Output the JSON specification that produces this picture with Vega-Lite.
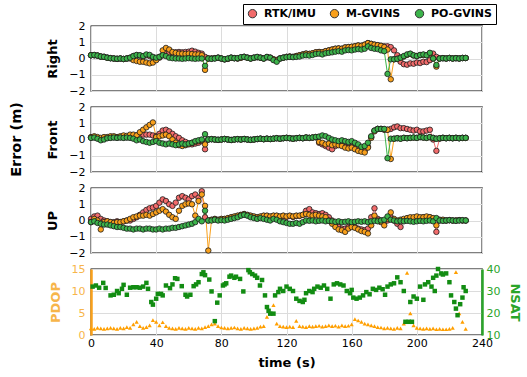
{
"$schema": "https://vega.github.io/schema/vega-lite/v6.json",
"background": "white",
"padding": {"left": 8, "top": 2, "right": 2, "bottom": 4},
"spacing": 16,
"bounds": "flush",
"config": {
 "font": "DejaVu Sans",
 "view": {"stroke": "black", "strokeWidth": 1.3},
 "axis": {"labelFontSize": 11, "labelColor": "black", "titleFontSize": 13, "titleFontWeight": "bold", "titleColor": "black", "gridColor": "#dcdcdc", "gridWidth": 1, "domain": false, "ticks": false, "labelPadding": 6, "titlePadding": 9, "labelOverlap": false}
},
"resolve": {"scale": {"y": "independent", "color": "independent", "stroke": "independent"}, "legend": {"color": "independent", "stroke": "independent"}},
"datasets": {
"err": [
{"t":0,"s":"RTK/IMU","r":0.2,"f":0.12,"u":0.1},
{"t":2,"s":"RTK/IMU","r":0.2,"f":0.14,"u":0.25},
{"t":4,"s":"RTK/IMU","r":0.18,"f":0.08,"u":0.3},
{"t":6,"s":"RTK/IMU","r":0.12,"f":0.0,"u":0.1},
{"t":8,"s":"RTK/IMU","r":0.1,"f":0.05,"u":0},
{"t":10,"s":"RTK/IMU","r":0.05,"f":0.1,"u":-0.05},
{"t":12,"s":"RTK/IMU","r":0.02,"f":0.12,"u":-0.1},
{"t":14,"s":"RTK/IMU","r":0,"f":0.14,"u":-0.1},
{"t":16,"s":"RTK/IMU","r":-0.02,"f":0.12,"u":-0.05},
{"t":18,"s":"RTK/IMU","r":0,"f":0.14,"u":-0.1},
{"t":20,"s":"RTK/IMU","r":-0.03,"f":0.12,"u":-0.05},
{"t":22,"s":"RTK/IMU","r":0,"f":0.14,"u":0},
{"t":24,"s":"RTK/IMU","r":0.05,"f":0.15,"u":0},
{"t":26,"s":"RTK/IMU","r":0.15,"f":0.2,"u":0.1},
{"t":28,"s":"RTK/IMU","r":0.2,"f":0.25,"u":0.2},
{"t":30,"s":"RTK/IMU","r":0.18,"f":0.25,"u":0.35},
{"t":32,"s":"RTK/IMU","r":0.12,"f":0.3,"u":0.5},
{"t":34,"s":"RTK/IMU","r":0.2,"f":0.3,"u":0.65},
{"t":36,"s":"RTK/IMU","r":0.15,"f":0.3,"u":0.75},
{"t":38,"s":"RTK/IMU","r":0.05,"f":0.25,"u":0.8},
{"t":40,"s":"RTK/IMU","r":0,"f":0.2,"u":0.9},
{"t":42,"s":"RTK/IMU","r":0.05,"f":0.35,"u":1.1},
{"t":44,"s":"RTK/IMU","r":0.2,"f":0.55,"u":1.3},
{"t":46,"s":"RTK/IMU","r":0.3,"f":0.6,"u":1.2},
{"t":48,"s":"RTK/IMU","r":0.35,"f":0.5,"u":1.0},
{"t":50,"s":"RTK/IMU","r":0.35,"f":0.35,"u":0.9},
{"t":52,"s":"RTK/IMU","r":0.38,"f":0.2,"u":1.1},
{"t":54,"s":"RTK/IMU","r":0.4,"f":0.1,"u":1.4},
{"t":56,"s":"RTK/IMU","r":0.38,"f":-0.05,"u":1.5},
{"t":58,"s":"RTK/IMU","r":0.4,"f":-0.15,"u":1.4},
{"t":60,"s":"RTK/IMU","r":0.42,"f":-0.25,"u":1.3},
{"t":62,"s":"RTK/IMU","r":0.48,"f":-0.3,"u":1.5},
{"t":64,"s":"RTK/IMU","r":0.42,"f":-0.25,"u":1.6},
{"t":66,"s":"RTK/IMU","r":0.35,"f":-0.2,"u":1.4},
{"t":68,"s":"RTK/IMU","r":0.3,"f":-0.1,"u":1.8},
{"t":70,"s":"RTK/IMU","r":0.1,"f":-0.6,"u":0.2},
{"t":72,"s":"RTK/IMU","r":0,"f":0,"u":0},
{"t":74,"s":"RTK/IMU","r":0,"f":0.02,"u":0.03},
{"t":76,"s":"RTK/IMU","r":0.02,"f":0,"u":0.08},
{"t":78,"s":"RTK/IMU","r":0.05,"f":-0.02,"u":0.03},
{"t":80,"s":"RTK/IMU","r":0,"f":0,"u":0.08},
{"t":82,"s":"RTK/IMU","r":-0.05,"f":0.03,"u":0.08},
{"t":84,"s":"RTK/IMU","r":-0.02,"f":0,"u":0.12},
{"t":86,"s":"RTK/IMU","r":0.05,"f":-0.03,"u":0.18},
{"t":88,"s":"RTK/IMU","r":0.02,"f":0,"u":0.22},
{"t":90,"s":"RTK/IMU","r":0,"f":0.02,"u":0.28},
{"t":92,"s":"RTK/IMU","r":0.05,"f":0,"u":0.32},
{"t":94,"s":"RTK/IMU","r":0.1,"f":0.03,"u":0.38},
{"t":96,"s":"RTK/IMU","r":0.05,"f":0,"u":0.32},
{"t":98,"s":"RTK/IMU","r":0,"f":-0.02,"u":0.28},
{"t":100,"s":"RTK/IMU","r":0.05,"f":0,"u":0.22},
{"t":102,"s":"RTK/IMU","r":0.08,"f":0.03,"u":0.18},
{"t":104,"s":"RTK/IMU","r":0.05,"f":0.05,"u":0.22},
{"t":106,"s":"RTK/IMU","r":0,"f":0.02,"u":0.28},
{"t":108,"s":"RTK/IMU","r":0.08,"f":0.05,"u":0.28},
{"t":110,"s":"RTK/IMU","r":0.05,"f":0.03,"u":0.22},
{"t":112,"s":"RTK/IMU","r":-0.05,"f":0.05,"u":0.28},
{"t":114,"s":"RTK/IMU","r":-0.1,"f":0.08,"u":0.28},
{"t":116,"s":"RTK/IMU","r":0,"f":0.05,"u":0.22},
{"t":118,"s":"RTK/IMU","r":0.05,"f":0.08,"u":0.28},
{"t":120,"s":"RTK/IMU","r":0.1,"f":0.1,"u":0.22},
{"t":122,"s":"RTK/IMU","r":0.12,"f":0.08,"u":0.28},
{"t":124,"s":"RTK/IMU","r":0.1,"f":0.05,"u":0.22},
{"t":126,"s":"RTK/IMU","r":0.15,"f":0.08,"u":0.28},
{"t":128,"s":"RTK/IMU","r":0.2,"f":0.1,"u":0.28},
{"t":130,"s":"RTK/IMU","r":0.25,"f":0.08,"u":0.35},
{"t":132,"s":"RTK/IMU","r":0.3,"f":0.12,"u":0.6},
{"t":134,"s":"RTK/IMU","r":0.28,"f":0.1,"u":0.7},
{"t":136,"s":"RTK/IMU","r":0.32,"f":0.12,"u":0.5},
{"t":138,"s":"RTK/IMU","r":0.38,"f":0.15,"u":0.45},
{"t":140,"s":"RTK/IMU","r":0.4,"f":-0.2,"u":0.4},
{"t":142,"s":"RTK/IMU","r":0.38,"f":-0.3,"u":0.45},
{"t":144,"s":"RTK/IMU","r":0.45,"f":-0.4,"u":0.35},
{"t":146,"s":"RTK/IMU","r":0.5,"f":-0.5,"u":0.2},
{"t":148,"s":"RTK/IMU","r":0.55,"f":-0.6,"u":0},
{"t":150,"s":"RTK/IMU","r":0.6,"f":-0.4,"u":-0.3},
{"t":152,"s":"RTK/IMU","r":0.62,"f":-0.3,"u":-0.4},
{"t":154,"s":"RTK/IMU","r":0.6,"f":-0.35,"u":-0.5},
{"t":156,"s":"RTK/IMU","r":0.68,"f":-0.45,"u":-0.5},
{"t":158,"s":"RTK/IMU","r":0.7,"f":-0.5,"u":-0.4},
{"t":160,"s":"RTK/IMU","r":0.72,"f":-0.45,"u":-0.35},
{"t":162,"s":"RTK/IMU","r":0.75,"f":-0.55,"u":-0.4},
{"t":164,"s":"RTK/IMU","r":0.8,"f":-0.6,"u":-0.5},
{"t":166,"s":"RTK/IMU","r":0.78,"f":-0.65,"u":-0.55},
{"t":168,"s":"RTK/IMU","r":0.85,"f":-0.7,"u":-0.6},
{"t":170,"s":"RTK/IMU","r":0.95,"f":-0.45,"u":-0.5},
{"t":172,"s":"RTK/IMU","r":0.9,"f":0.15,"u":0.2},
{"t":174,"s":"RTK/IMU","r":0.85,"f":0.55,"u":0.75},
{"t":176,"s":"RTK/IMU","r":0.82,"f":0.65,"u":0.1},
{"t":178,"s":"RTK/IMU","r":0.78,"f":0.65,"u":0},
{"t":180,"s":"RTK/IMU","r":0.75,"f":0.6,"u":-0.1},
{"t":182,"s":"RTK/IMU","r":0.75,"f":0.6,"u":0},
{"t":184,"s":"RTK/IMU","r":0.7,"f":0.65,"u":0.2},
{"t":186,"s":"RTK/IMU","r":0.5,"f":0.75,"u":0},
{"t":188,"s":"RTK/IMU","r":0.2,"f":0.8,"u":-0.2},
{"t":190,"s":"RTK/IMU","r":-0.2,"f":0.7,"u":-0.4},
{"t":192,"s":"RTK/IMU","r":-0.35,"f":0.7,"u":0},
{"t":194,"s":"RTK/IMU","r":-0.38,"f":0.65,"u":0.1},
{"t":196,"s":"RTK/IMU","r":-0.3,"f":0.6,"u":0.1},
{"t":198,"s":"RTK/IMU","r":-0.32,"f":0.55,"u":0.15},
{"t":200,"s":"RTK/IMU","r":-0.25,"f":0.6,"u":0.2},
{"t":202,"s":"RTK/IMU","r":-0.28,"f":0.5,"u":0.15},
{"t":204,"s":"RTK/IMU","r":-0.2,"f":0.5,"u":0.2},
{"t":206,"s":"RTK/IMU","r":-0.22,"f":0.55,"u":0.15},
{"t":208,"s":"RTK/IMU","r":-0.1,"f":0.6,"u":0.2},
{"t":210,"s":"RTK/IMU","r":0.3,"f":0,"u":0.1},
{"t":212,"s":"RTK/IMU","r":0.1,"f":-0.7,"u":-0.7},
{"t":214,"s":"RTK/IMU","r":0,"f":0.05,"u":0},
{"t":216,"s":"RTK/IMU","r":0.02,"f":0.1,"u":0},
{"t":218,"s":"RTK/IMU","r":0,"f":0.08,"u":0},
{"t":220,"s":"RTK/IMU","r":0.03,"f":0.1,"u":0.02},
{"t":222,"s":"RTK/IMU","r":0,"f":0.08,"u":0},
{"t":224,"s":"RTK/IMU","r":0.02,"f":0.1,"u":0},
{"t":226,"s":"RTK/IMU","r":0,"f":0.08,"u":0.02},
{"t":228,"s":"RTK/IMU","r":0.03,"f":0.1,"u":0},
{"t":230,"s":"RTK/IMU","r":0.03,"f":0.1,"u":0},
{"t":0,"s":"M-GVINS","r":0.2,"f":0.15,"u":-0.1},
{"t":2,"s":"M-GVINS","r":0.2,"f":0.2,"u":0.1},
{"t":4,"s":"M-GVINS","r":0.18,"f":0.15,"u":0},
{"t":6,"s":"M-GVINS","r":0.12,"f":0.1,"u":-0.55},
{"t":8,"s":"M-GVINS","r":0.1,"f":0.15,"u":-0.1},
{"t":10,"s":"M-GVINS","r":0.05,"f":0.15,"u":-0.05},
{"t":12,"s":"M-GVINS","r":0.02,"f":0.2,"u":-0.1},
{"t":14,"s":"M-GVINS","r":0,"f":0.2,"u":-0.15},
{"t":16,"s":"M-GVINS","r":-0.02,"f":0.15,"u":-0.1},
{"t":18,"s":"M-GVINS","r":0,"f":0.2,"u":-0.1},
{"t":20,"s":"M-GVINS","r":-0.03,"f":0.25,"u":-0.05},
{"t":22,"s":"M-GVINS","r":0,"f":0.22,"u":0},
{"t":24,"s":"M-GVINS","r":0,"f":0.3,"u":0.1},
{"t":26,"s":"M-GVINS","r":-0.1,"f":0.3,"u":0.2},
{"t":28,"s":"M-GVINS","r":-0.15,"f":0.25,"u":0.25},
{"t":30,"s":"M-GVINS","r":-0.2,"f":0.45,"u":0.3},
{"t":32,"s":"M-GVINS","r":-0.2,"f":0.6,"u":0.3},
{"t":34,"s":"M-GVINS","r":-0.25,"f":0.75,"u":0.35},
{"t":36,"s":"M-GVINS","r":-0.3,"f":0.9,"u":0.3},
{"t":38,"s":"M-GVINS","r":-0.25,"f":1.05,"u":0.4},
{"t":40,"s":"M-GVINS","r":-0.1,"f":0.15,"u":0.5},
{"t":42,"s":"M-GVINS","r":0.1,"f":0.2,"u":0.6},
{"t":44,"s":"M-GVINS","r":0.5,"f":0.25,"u":0.7},
{"t":46,"s":"M-GVINS","r":0.65,"f":0.3,"u":0.55},
{"t":48,"s":"M-GVINS","r":0.55,"f":0.2,"u":0.35},
{"t":50,"s":"M-GVINS","r":0.4,"f":0,"u":0.2},
{"t":52,"s":"M-GVINS","r":0.35,"f":-0.2,"u":0.1},
{"t":54,"s":"M-GVINS","r":0.3,"f":-0.35,"u":0.6},
{"t":56,"s":"M-GVINS","r":0.3,"f":-0.4,"u":0.9},
{"t":58,"s":"M-GVINS","r":0.28,"f":-0.35,"u":1.0},
{"t":60,"s":"M-GVINS","r":0.3,"f":-0.3,"u":1.05},
{"t":62,"s":"M-GVINS","r":0.28,"f":-0.2,"u":1.0},
{"t":64,"s":"M-GVINS","r":0.25,"f":-0.15,"u":0.3},
{"t":66,"s":"M-GVINS","r":0.25,"f":-0.1,"u":1.2},
{"t":68,"s":"M-GVINS","r":0.2,"f":-0.05,"u":1.6},
{"t":70,"s":"M-GVINS","r":-0.7,"f":-0.3,"u":0.9},
{"t":72,"s":"M-GVINS","r":0,"f":0,"u":-1.85},
{"t":74,"s":"M-GVINS","r":0,"f":0.02,"u":0.05},
{"t":76,"s":"M-GVINS","r":0.02,"f":0,"u":0.1},
{"t":78,"s":"M-GVINS","r":0.05,"f":-0.02,"u":0.05},
{"t":80,"s":"M-GVINS","r":0,"f":0,"u":0.1},
{"t":82,"s":"M-GVINS","r":-0.05,"f":0.03,"u":0.1},
{"t":84,"s":"M-GVINS","r":-0.02,"f":0,"u":0.15},
{"t":86,"s":"M-GVINS","r":0.05,"f":-0.03,"u":0.2},
{"t":88,"s":"M-GVINS","r":0.02,"f":0,"u":0.25},
{"t":90,"s":"M-GVINS","r":0,"f":0.02,"u":0.3},
{"t":92,"s":"M-GVINS","r":0.05,"f":0,"u":0.35},
{"t":94,"s":"M-GVINS","r":0.1,"f":0.03,"u":0.4},
{"t":96,"s":"M-GVINS","r":0.05,"f":0,"u":0.35},
{"t":98,"s":"M-GVINS","r":0,"f":-0.02,"u":0.3},
{"t":100,"s":"M-GVINS","r":0.05,"f":0,"u":0.25},
{"t":102,"s":"M-GVINS","r":0.08,"f":0.03,"u":0.2},
{"t":104,"s":"M-GVINS","r":0.05,"f":0.05,"u":0.25},
{"t":106,"s":"M-GVINS","r":0,"f":0.02,"u":0.3},
{"t":108,"s":"M-GVINS","r":0.08,"f":0.05,"u":0.3},
{"t":110,"s":"M-GVINS","r":0.05,"f":0.03,"u":0.25},
{"t":112,"s":"M-GVINS","r":-0.05,"f":0.05,"u":0.3},
{"t":114,"s":"M-GVINS","r":-0.1,"f":0.08,"u":0.3},
{"t":116,"s":"M-GVINS","r":0,"f":0.05,"u":0.25},
{"t":118,"s":"M-GVINS","r":0.05,"f":0.08,"u":0.3},
{"t":120,"s":"M-GVINS","r":0.1,"f":0.1,"u":0.25},
{"t":122,"s":"M-GVINS","r":0.12,"f":0.08,"u":0.3},
{"t":124,"s":"M-GVINS","r":0.1,"f":0.05,"u":0.25},
{"t":126,"s":"M-GVINS","r":0.15,"f":0.08,"u":0.3},
{"t":128,"s":"M-GVINS","r":0.2,"f":0.1,"u":0.3},
{"t":130,"s":"M-GVINS","r":0.25,"f":0.08,"u":0.35},
{"t":132,"s":"M-GVINS","r":0.3,"f":0.12,"u":0.4},
{"t":134,"s":"M-GVINS","r":0.28,"f":0.1,"u":0.35},
{"t":136,"s":"M-GVINS","r":0.32,"f":0.12,"u":0.3},
{"t":138,"s":"M-GVINS","r":0.38,"f":0.15,"u":0.35},
{"t":140,"s":"M-GVINS","r":0.4,"f":-0.15,"u":0.3},
{"t":142,"s":"M-GVINS","r":0.38,"f":-0.2,"u":0.25},
{"t":144,"s":"M-GVINS","r":0.45,"f":-0.3,"u":0.2},
{"t":146,"s":"M-GVINS","r":0.5,"f":-0.25,"u":0},
{"t":148,"s":"M-GVINS","r":0.55,"f":-0.35,"u":-0.2},
{"t":150,"s":"M-GVINS","r":0.6,"f":-0.3,"u":-0.4},
{"t":152,"s":"M-GVINS","r":0.62,"f":-0.35,"u":-0.55},
{"t":154,"s":"M-GVINS","r":0.6,"f":-0.4,"u":-0.6},
{"t":156,"s":"M-GVINS","r":0.68,"f":-0.5,"u":-0.7},
{"t":158,"s":"M-GVINS","r":0.7,"f":-0.55,"u":-0.5},
{"t":160,"s":"M-GVINS","r":0.72,"f":-0.5,"u":-0.4},
{"t":162,"s":"M-GVINS","r":0.75,"f":-0.6,"u":-0.45},
{"t":164,"s":"M-GVINS","r":0.8,"f":-0.7,"u":-0.55},
{"t":166,"s":"M-GVINS","r":0.78,"f":-0.75,"u":-0.65},
{"t":168,"s":"M-GVINS","r":0.85,"f":-0.8,"u":-0.7},
{"t":170,"s":"M-GVINS","r":0.95,"f":-0.5,"u":-0.8},
{"t":172,"s":"M-GVINS","r":0.9,"f":0.1,"u":-0.3},
{"t":174,"s":"M-GVINS","r":0.85,"f":0.5,"u":0.3},
{"t":176,"s":"M-GVINS","r":0.82,"f":0.65,"u":0},
{"t":178,"s":"M-GVINS","r":0.78,"f":0.65,"u":-0.1},
{"t":180,"s":"M-GVINS","r":0.7,"f":0.62,"u":-0.3},
{"t":182,"s":"M-GVINS","r":0.55,"f":0.6,"u":0.1},
{"t":184,"s":"M-GVINS","r":-1.28,"f":-1.2,"u":0.5},
{"t":186,"s":"M-GVINS","r":-0.05,"f":0.05,"u":0.1},
{"t":188,"s":"M-GVINS","r":-0.02,"f":0.08,"u":0},
{"t":190,"s":"M-GVINS","r":0.05,"f":0.05,"u":0.05},
{"t":192,"s":"M-GVINS","r":0.12,"f":0.1,"u":0.1},
{"t":194,"s":"M-GVINS","r":0.22,"f":0.08,"u":0.15},
{"t":196,"s":"M-GVINS","r":0.28,"f":0.1,"u":0.2},
{"t":198,"s":"M-GVINS","r":0.18,"f":0.12,"u":0.2},
{"t":200,"s":"M-GVINS","r":0.15,"f":0.1,"u":0.25},
{"t":202,"s":"M-GVINS","r":0.2,"f":0.15,"u":0.2},
{"t":204,"s":"M-GVINS","r":0.22,"f":0.12,"u":0.2},
{"t":206,"s":"M-GVINS","r":0.2,"f":0.1,"u":0.25},
{"t":208,"s":"M-GVINS","r":0.3,"f":0.15,"u":0.2},
{"t":210,"s":"M-GVINS","r":0,"f":0.1,"u":0.15},
{"t":212,"s":"M-GVINS","r":-0.5,"f":0.05,"u":-0.3},
{"t":214,"s":"M-GVINS","r":0,"f":0.08,"u":0.05},
{"t":216,"s":"M-GVINS","r":0.02,"f":0.1,"u":0.05},
{"t":218,"s":"M-GVINS","r":0,"f":0.08,"u":0},
{"t":220,"s":"M-GVINS","r":0.03,"f":0.1,"u":0.02},
{"t":222,"s":"M-GVINS","r":0,"f":0.08,"u":0},
{"t":224,"s":"M-GVINS","r":0.02,"f":0.1,"u":0},
{"t":226,"s":"M-GVINS","r":0,"f":0.08,"u":0.02},
{"t":228,"s":"M-GVINS","r":0.03,"f":0.1,"u":0},
{"t":230,"s":"M-GVINS","r":0.03,"f":0.1,"u":0},
{"t":0,"s":"PO-GVINS","r":0.2,"f":0.1,"u":-0.1},
{"t":2,"s":"PO-GVINS","r":0.22,"f":0.12,"u":-0.05},
{"t":4,"s":"PO-GVINS","r":0.18,"f":0.05,"u":-0.15},
{"t":6,"s":"PO-GVINS","r":0.12,"f":-0.05,"u":-0.2},
{"t":8,"s":"PO-GVINS","r":0.1,"f":0,"u":-0.25},
{"t":10,"s":"PO-GVINS","r":0.05,"f":0.08,"u":-0.25},
{"t":12,"s":"PO-GVINS","r":0.02,"f":0.1,"u":-0.3},
{"t":14,"s":"PO-GVINS","r":0,"f":0.12,"u":-0.35},
{"t":16,"s":"PO-GVINS","r":-0.02,"f":0.1,"u":-0.4},
{"t":18,"s":"PO-GVINS","r":0,"f":0.12,"u":-0.4},
{"t":20,"s":"PO-GVINS","r":-0.03,"f":0.1,"u":-0.45},
{"t":22,"s":"PO-GVINS","r":0,"f":0.12,"u":-0.5},
{"t":24,"s":"PO-GVINS","r":0.05,"f":0.1,"u":-0.5},
{"t":26,"s":"PO-GVINS","r":0.15,"f":0.05,"u":-0.55},
{"t":28,"s":"PO-GVINS","r":0.22,"f":-0.05,"u":-0.5},
{"t":30,"s":"PO-GVINS","r":0.2,"f":0,"u":-0.5},
{"t":32,"s":"PO-GVINS","r":0.15,"f":-0.1,"u":-0.55},
{"t":34,"s":"PO-GVINS","r":0.25,"f":-0.15,"u":-0.5},
{"t":36,"s":"PO-GVINS","r":0.22,"f":-0.2,"u":-0.5},
{"t":38,"s":"PO-GVINS","r":0.1,"f":-0.15,"u":-0.55},
{"t":40,"s":"PO-GVINS","r":0.05,"f":-0.1,"u":-0.55},
{"t":42,"s":"PO-GVINS","r":0.1,"f":-0.2,"u":-0.5},
{"t":44,"s":"PO-GVINS","r":0.2,"f":-0.25,"u":-0.55},
{"t":46,"s":"PO-GVINS","r":0.15,"f":-0.3,"u":-0.5},
{"t":48,"s":"PO-GVINS","r":0.05,"f":-0.25,"u":-0.5},
{"t":50,"s":"PO-GVINS","r":0.02,"f":-0.3,"u":-0.45},
{"t":52,"s":"PO-GVINS","r":0,"f":-0.35,"u":-0.45},
{"t":54,"s":"PO-GVINS","r":0,"f":-0.3,"u":-0.4},
{"t":56,"s":"PO-GVINS","r":-0.02,"f":-0.25,"u":-0.35},
{"t":58,"s":"PO-GVINS","r":0,"f":-0.3,"u":-0.3},
{"t":60,"s":"PO-GVINS","r":0.02,"f":-0.25,"u":-0.25},
{"t":62,"s":"PO-GVINS","r":0,"f":-0.2,"u":-0.2},
{"t":64,"s":"PO-GVINS","r":-0.02,"f":-0.1,"u":-0.1},
{"t":66,"s":"PO-GVINS","r":0,"f":-0.05,"u":0.1},
{"t":68,"s":"PO-GVINS","r":0,"f":0,"u":-0.05},
{"t":70,"s":"PO-GVINS","r":-0.45,"f":0.33,"u":0.6},
{"t":72,"s":"PO-GVINS","r":0,"f":0,"u":0},
{"t":74,"s":"PO-GVINS","r":-0.02,"f":0.02,"u":0},
{"t":76,"s":"PO-GVINS","r":0,"f":0,"u":0.05},
{"t":78,"s":"PO-GVINS","r":0.05,"f":-0.02,"u":0},
{"t":80,"s":"PO-GVINS","r":0,"f":0,"u":0.02},
{"t":82,"s":"PO-GVINS","r":-0.05,"f":0.03,"u":0},
{"t":84,"s":"PO-GVINS","r":0,"f":0,"u":0.05},
{"t":86,"s":"PO-GVINS","r":0.05,"f":-0.03,"u":0.1},
{"t":88,"s":"PO-GVINS","r":0.02,"f":0,"u":0.15},
{"t":90,"s":"PO-GVINS","r":0.02,"f":0.02,"u":0.2},
{"t":92,"s":"PO-GVINS","r":0.08,"f":0,"u":0.3},
{"t":94,"s":"PO-GVINS","r":0.1,"f":0.03,"u":0.35},
{"t":96,"s":"PO-GVINS","r":0.05,"f":0,"u":0.3},
{"t":98,"s":"PO-GVINS","r":0,"f":-0.02,"u":0.2},
{"t":100,"s":"PO-GVINS","r":0.05,"f":0,"u":0.15},
{"t":102,"s":"PO-GVINS","r":0.1,"f":0.03,"u":0.1},
{"t":104,"s":"PO-GVINS","r":0.05,"f":0.05,"u":0.15},
{"t":106,"s":"PO-GVINS","r":0,"f":0.02,"u":0.1},
{"t":108,"s":"PO-GVINS","r":0.1,"f":0.05,"u":0.05},
{"t":110,"s":"PO-GVINS","r":0.05,"f":0.03,"u":0},
{"t":112,"s":"PO-GVINS","r":-0.1,"f":0.05,"u":0.1},
{"t":114,"s":"PO-GVINS","r":-0.2,"f":0.08,"u":0.05},
{"t":116,"s":"PO-GVINS","r":0,"f":0.05,"u":-0.05},
{"t":118,"s":"PO-GVINS","r":0.05,"f":0.08,"u":-0.1},
{"t":120,"s":"PO-GVINS","r":0.08,"f":0.1,"u":-0.15},
{"t":122,"s":"PO-GVINS","r":0.1,"f":0.08,"u":-0.2},
{"t":124,"s":"PO-GVINS","r":0.08,"f":0.05,"u":-0.2},
{"t":126,"s":"PO-GVINS","r":0.1,"f":0.08,"u":-0.15},
{"t":128,"s":"PO-GVINS","r":0.12,"f":0.1,"u":-0.2},
{"t":130,"s":"PO-GVINS","r":0.18,"f":0.08,"u":-0.1},
{"t":132,"s":"PO-GVINS","r":0.2,"f":0.12,"u":0},
{"t":134,"s":"PO-GVINS","r":0.18,"f":0.1,"u":-0.02},
{"t":136,"s":"PO-GVINS","r":0.22,"f":0.12,"u":0},
{"t":138,"s":"PO-GVINS","r":0.28,"f":0.15,"u":-0.05},
{"t":140,"s":"PO-GVINS","r":0.3,"f":0.18,"u":-0.02},
{"t":142,"s":"PO-GVINS","r":0.25,"f":0.25,"u":0},
{"t":144,"s":"PO-GVINS","r":0.32,"f":0.2,"u":-0.05},
{"t":146,"s":"PO-GVINS","r":0.35,"f":0.1,"u":-0.02},
{"t":148,"s":"PO-GVINS","r":0.38,"f":0,"u":-0.05},
{"t":150,"s":"PO-GVINS","r":0.42,"f":-0.05,"u":-0.08},
{"t":152,"s":"PO-GVINS","r":0.45,"f":-0.1,"u":-0.05},
{"t":154,"s":"PO-GVINS","r":0.42,"f":-0.05,"u":-0.1},
{"t":156,"s":"PO-GVINS","r":0.5,"f":-0.1,"u":-0.08},
{"t":158,"s":"PO-GVINS","r":0.52,"f":-0.15,"u":-0.05},
{"t":160,"s":"PO-GVINS","r":0.5,"f":-0.1,"u":-0.1},
{"t":162,"s":"PO-GVINS","r":0.55,"f":-0.2,"u":-0.08},
{"t":164,"s":"PO-GVINS","r":0.58,"f":-0.3,"u":-0.05},
{"t":166,"s":"PO-GVINS","r":0.55,"f":-0.45,"u":-0.08},
{"t":168,"s":"PO-GVINS","r":0.6,"f":-0.4,"u":-0.05},
{"t":170,"s":"PO-GVINS","r":0.75,"f":-0.2,"u":-0.1},
{"t":172,"s":"PO-GVINS","r":0.65,"f":0.2,"u":-0.05},
{"t":174,"s":"PO-GVINS","r":0.6,"f":0.55,"u":-0.02},
{"t":176,"s":"PO-GVINS","r":0.58,"f":0.65,"u":-0.05},
{"t":178,"s":"PO-GVINS","r":0.5,"f":0.65,"u":0},
{"t":180,"s":"PO-GVINS","r":0.45,"f":0.65,"u":0.05},
{"t":182,"s":"PO-GVINS","r":-0.95,"f":-1.15,"u":0.25},
{"t":184,"s":"PO-GVINS","r":-0.05,"f":0.05,"u":0.05},
{"t":186,"s":"PO-GVINS","r":-0.05,"f":0.05,"u":0},
{"t":188,"s":"PO-GVINS","r":-0.02,"f":0.08,"u":-0.05},
{"t":190,"s":"PO-GVINS","r":0.05,"f":0.05,"u":-0.02},
{"t":192,"s":"PO-GVINS","r":0.15,"f":0.1,"u":-0.05},
{"t":194,"s":"PO-GVINS","r":0.25,"f":0.08,"u":-0.02},
{"t":196,"s":"PO-GVINS","r":0.3,"f":0.1,"u":-0.05},
{"t":198,"s":"PO-GVINS","r":0.2,"f":0.12,"u":-0.08},
{"t":200,"s":"PO-GVINS","r":0.15,"f":0.1,"u":-0.05},
{"t":202,"s":"PO-GVINS","r":0.22,"f":0.15,"u":-0.02},
{"t":204,"s":"PO-GVINS","r":0.25,"f":0.12,"u":-0.05},
{"t":206,"s":"PO-GVINS","r":0.2,"f":0.1,"u":-0.02},
{"t":208,"s":"PO-GVINS","r":0.35,"f":0.15,"u":0},
{"t":210,"s":"PO-GVINS","r":0,"f":0.1,"u":-0.05},
{"t":212,"s":"PO-GVINS","r":-0.4,"f":0.05,"u":0.15},
{"t":214,"s":"PO-GVINS","r":0,"f":0.08,"u":0},
{"t":216,"s":"PO-GVINS","r":0.02,"f":0.1,"u":-0.02},
{"t":218,"s":"PO-GVINS","r":0,"f":0.08,"u":0},
{"t":220,"s":"PO-GVINS","r":0.03,"f":0.1,"u":0.02},
{"t":222,"s":"PO-GVINS","r":0,"f":0.08,"u":0},
{"t":224,"s":"PO-GVINS","r":0.02,"f":0.1,"u":-0.02},
{"t":226,"s":"PO-GVINS","r":0,"f":0.08,"u":0},
{"t":228,"s":"PO-GVINS","r":0.03,"f":0.1,"u":0.02},
{"t":230,"s":"PO-GVINS","r":0.03,"f":0.1,"u":0}
],
"dop": [
{"t":0,"p":1.5},{"t":2,"p":1.4},{"t":4,"p":1.6},{"t":6,"p":1.5},{"t":8,"p":1.4},{"t":10,"p":1.5},{"t":12,"p":1.6},{"t":14,"p":1.5},{"t":16,"p":1.4},{"t":18,"p":1.6},
{"t":20,"p":1.5},{"t":22,"p":1.8},{"t":24,"p":1.6},{"t":26,"p":2.4},{"t":28,"p":3.0},{"t":30,"p":2.0},{"t":32,"p":1.6},{"t":34,"p":1.8},{"t":36,"p":2.2},{"t":38,"p":3.4},
{"t":40,"p":3.0},{"t":42,"p":2.2},{"t":44,"p":2.9},{"t":46,"p":2.0},{"t":48,"p":1.6},{"t":50,"p":1.5},{"t":52,"p":1.4},{"t":54,"p":1.6},{"t":56,"p":1.5},{"t":58,"p":1.4},
{"t":60,"p":1.6},{"t":62,"p":1.5},{"t":64,"p":1.4},{"t":66,"p":1.6},{"t":68,"p":1.5},{"t":70,"p":1.8},{"t":72,"p":2.0},{"t":74,"p":2.4},{"t":76,"p":2.6},{"t":78,"p":2.0},
{"t":80,"p":1.7},{"t":82,"p":1.6},{"t":84,"p":1.5},{"t":86,"p":1.6},{"t":88,"p":1.7},{"t":90,"p":1.5},{"t":92,"p":1.4},{"t":94,"p":1.6},{"t":96,"p":1.5},{"t":98,"p":1.4},
{"t":100,"p":1.5},{"t":102,"p":1.6},{"t":104,"p":1.9},{"t":106,"p":2.0},{"t":108,"p":4.1},{"t":110,"p":4.9},{"t":112,"p":6.8},{"t":114,"p":2.6},{"t":116,"p":2.0},{"t":118,"p":1.9},
{"t":120,"p":1.8},{"t":122,"p":1.9},{"t":124,"p":1.8},{"t":126,"p":3.2},{"t":128,"p":2.0},{"t":130,"p":1.9},{"t":132,"p":1.8},{"t":134,"p":2.0},{"t":136,"p":1.9},{"t":138,"p":2.0},
{"t":140,"p":2.1},{"t":142,"p":1.9},{"t":144,"p":2.0},{"t":146,"p":2.2},{"t":148,"p":2.0},{"t":150,"p":2.1},{"t":152,"p":1.9},{"t":154,"p":2.2},{"t":156,"p":2.0},{"t":158,"p":2.1},
{"t":160,"p":2.4},{"t":162,"p":3.6},{"t":164,"p":3.3},{"t":166,"p":3.0},{"t":168,"p":2.6},{"t":170,"p":2.4},{"t":172,"p":2.2},{"t":174,"p":2.0},{"t":176,"p":1.8},{"t":178,"p":1.7},
{"t":180,"p":1.5},{"t":182,"p":1.6},{"t":184,"p":1.5},{"t":186,"p":1.4},{"t":188,"p":1.6},{"t":190,"p":1.5},{"t":192,"p":2.6},{"t":194,"p":14.1},{"t":196,"p":4.9},{"t":198,"p":2.2},
{"t":200,"p":1.6},{"t":202,"p":1.5},{"t":204,"p":1.4},{"t":206,"p":1.5},{"t":208,"p":1.4},{"t":210,"p":1.5},{"t":212,"p":1.3},{"t":214,"p":1.4},{"t":216,"p":1.3},{"t":218,"p":1.3},
{"t":220,"p":1.4},{"t":222,"p":1.6},{"t":224,"p":14.3},{"t":226,"p":4.9},{"t":228,"p":3.0},{"t":230,"p":1.4}
],
"sat": [
{"t":1,"n":32},{"t":3,"n":32.5},{"t":5,"n":31.5},{"t":7.5,"n":33.7},{"t":9,"n":31.4},{"t":12,"n":28},{"t":14,"n":28.3},{"t":16,"n":30},{"t":17,"n":29},{"t":19,"n":31},
{"t":20,"n":32.8},{"t":22,"n":28.3},{"t":24,"n":31.5},{"t":26,"n":31.7},{"t":28,"n":31.7},{"t":30,"n":31.5},{"t":32,"n":32},{"t":34,"n":33.7},{"t":35,"n":31},{"t":37,"n":25},
{"t":38,"n":23.8},{"t":40,"n":26.5},{"t":41,"n":28.7},{"t":43,"n":28.7},{"t":44,"n":28},{"t":46,"n":32.5},{"t":48.5,"n":31.3},{"t":50,"n":33},{"t":51.6,"n":35.8},{"t":53,"n":35.5},
{"t":55.7,"n":32.2},{"t":58,"n":28.3},{"t":59,"n":27.5},{"t":61,"n":28.3},{"t":63,"n":32.2},{"t":64.5,"n":33},{"t":66,"n":34},{"t":68,"n":37.7},{"t":69,"n":38.5},{"t":70,"n":37.2},
{"t":72.6,"n":35.2},{"t":74,"n":29.8},{"t":76,"n":16.3},{"t":77.5,"n":24.7},{"t":79,"n":28},{"t":81,"n":32.5},{"t":82,"n":33},{"t":83,"n":33.5},{"t":85,"n":36.5},{"t":86,"n":37},
{"t":88,"n":36},{"t":89,"n":36.5},{"t":91.5,"n":35.5},{"t":93.5,"n":29.8},{"t":96.6,"n":39.5},{"t":97.5,"n":38.5},{"t":99,"n":37.7},{"t":100.7,"n":37},{"t":102,"n":36},{"t":103.7,"n":32.5},
{"t":105,"n":35},{"t":106.8,"n":28},{"t":108,"n":22.7},{"t":109,"n":21},{"t":110,"n":19.7},{"t":112,"n":19.7},{"t":113,"n":28},{"t":115,"n":29.5},{"t":116,"n":31},{"t":118,"n":30},
{"t":120,"n":32},{"t":122,"n":31},{"t":124,"n":30},{"t":126,"n":26.5},{"t":128,"n":25.5},{"t":130,"n":25},{"t":131,"n":26},{"t":132,"n":29},{"t":134,"n":30},{"t":136,"n":29.5},
{"t":137,"n":31},{"t":139,"n":32},{"t":141,"n":31.5},{"t":143,"n":32.5},{"t":145,"n":31},{"t":147,"n":26.5},{"t":149,"n":33},{"t":151,"n":33.5},{"t":153,"n":33},{"t":155,"n":32.5},
{"t":157,"n":30},{"t":159,"n":29},{"t":160,"n":30.5},{"t":161,"n":27},{"t":163,"n":26.5},{"t":165,"n":27},{"t":167,"n":28},{"t":169,"n":29.5},{"t":171,"n":28.5},{"t":173,"n":31},
{"t":175,"n":30.5},{"t":177,"n":31.5},{"t":179,"n":30.8},{"t":180.5,"n":28.3},{"t":182,"n":32},{"t":184,"n":33},{"t":186,"n":33.5},{"t":188,"n":36.2},{"t":190,"n":34},{"t":192,"n":30},
{"t":193,"n":16},{"t":195,"n":16},{"t":196,"n":25},{"t":197,"n":16},{"t":198,"n":27.5},{"t":200,"n":26.5},{"t":202,"n":32},{"t":204,"n":26},{"t":205,"n":33},{"t":207,"n":34},
{"t":209,"n":32},{"t":210,"n":36},{"t":211,"n":30},{"t":212,"n":37},{"t":213,"n":40},{"t":215,"n":38},{"t":216,"n":37.5},{"t":218,"n":38},{"t":220,"n":34},{"t":221,"n":28},
{"t":223,"n":25},{"t":224,"n":22},{"t":225,"n":19},{"t":226.6,"n":24},{"t":228,"n":27},{"t":228.7,"n":31.7},{"t":230,"n":30}
]
},
"vconcat": [
{
 "width": 391, "height": 65,
 "data": {"name": "err"},
 "encoding": {
  "x": {"field": "t", "type": "quantitative", "scale": {"domain": [0, 240]}, "axis": {"values": [0,40,80,120,160,200,240], "labels": false, "title": null, "grid": true}},
  "y": {"field": "r", "type": "quantitative", "scale": {"domain": [-2, 2]}, "axis": {"values": [-2,-1,0,1,2], "title": "Right", "grid": true, "labelOverlap": false}}
 },
 "layer": [
  {"mark": {"type": "line", "strokeWidth": 1},
   "encoding": {
    "stroke": {"field": "s", "type": "nominal", "scale": {"domain": ["PO-GVINS","M-GVINS","RTK/IMU"], "range": ["#3cb44b","#f9a01b","#f26b6b"]}, "legend": null}
   }},
  {"mark": {"type": "point", "filled": true, "size": 30, "opacity": 1, "stroke": "#1a1a1a", "strokeWidth": 0.8},
   "encoding": {
    "color": {"field": "s", "type": "nominal", "scale": {"domain": ["RTK/IMU","M-GVINS","PO-GVINS"], "range": ["#f26b6b","#f9a01b","#3cb44b"]},
      "legend": {"orient": "none", "legendX": 152, "legendY": -22, "direction": "horizontal", "title": null, "symbolType": "circle", "symbolSize": 70, "symbolStrokeColor": "#333", "symbolStrokeWidth": 1, "symbolOpacity": 1, "labelFontSize": 11, "labelFontWeight": "bold", "labelColor": "black", "strokeColor": "black", "fillColor": "white", "padding": 4, "columnPadding": 12, "labelOffset": 6}}
   }}
 ]
},
{
 "width": 391, "height": 65,
 "data": {"name": "err"},
 "title": {"text": "Error (m)", "orient": "left", "anchor": "middle", "fontSize": 14.5, "fontWeight": "bold", "color": "black", "offset": 22},
 "encoding": {
  "x": {"field": "t", "type": "quantitative", "scale": {"domain": [0, 240]}, "axis": {"values": [0,40,80,120,160,200,240], "labels": false, "title": null, "grid": true}},
  "y": {"field": "f", "type": "quantitative", "scale": {"domain": [-2, 2]}, "axis": {"values": [-2,-1,0,1,2], "title": "Front", "grid": true, "labelOverlap": false}}
 },
 "layer": [
  {"mark": {"type": "line", "strokeWidth": 1},
   "encoding": {
    "stroke": {"field": "s", "type": "nominal", "scale": {"domain": ["PO-GVINS","M-GVINS","RTK/IMU"], "range": ["#3cb44b","#f9a01b","#f26b6b"]}, "legend": null}
   }},
  {"mark": {"type": "point", "filled": true, "size": 30, "opacity": 1, "stroke": "#1a1a1a", "strokeWidth": 0.8},
   "encoding": {
    "color": {"field": "s", "type": "nominal", "scale": {"domain": ["RTK/IMU","M-GVINS","PO-GVINS"], "range": ["#f26b6b","#f9a01b","#3cb44b"]}, "legend": null}
   }}
 ]
},
{
 "width": 391, "height": 65,
 "data": {"name": "err"},
 "encoding": {
  "x": {"field": "t", "type": "quantitative", "scale": {"domain": [0, 240]}, "axis": {"values": [0,40,80,120,160,200,240], "labels": false, "title": null, "grid": true}},
  "y": {"field": "u", "type": "quantitative", "scale": {"domain": [-2, 2]}, "axis": {"values": [-2,-1,0,1,2], "title": "UP", "grid": true, "labelOverlap": false}}
 },
 "layer": [
  {"mark": {"type": "line", "strokeWidth": 1},
   "encoding": {
    "stroke": {"field": "s", "type": "nominal", "scale": {"domain": ["PO-GVINS","M-GVINS","RTK/IMU"], "range": ["#3cb44b","#f9a01b","#f26b6b"]}, "legend": null}
   }},
  {"mark": {"type": "point", "filled": true, "size": 30, "opacity": 1, "stroke": "#1a1a1a", "strokeWidth": 0.8},
   "encoding": {
    "color": {"field": "s", "type": "nominal", "scale": {"domain": ["RTK/IMU","M-GVINS","PO-GVINS"], "range": ["#f26b6b","#f9a01b","#3cb44b"]}, "legend": null}
   }}
 ]
},
{
 "width": 391, "height": 66,
 "layer": [
  {"data": {"name": "dop"},
   "mark": {"type": "point", "shape": "triangle-up", "filled": true, "size": 18, "color": "#ff9f00", "opacity": 1},
   "encoding": {
    "x": {"field": "t", "type": "quantitative", "scale": {"domain": [0, 240]}, "axis": {"values": [0,40,80,120,160,200,240], "title": "time (s)", "grid": true, "labelFlush": false, "labelPadding": 2, "titlePadding": 8}},
    "y": {"field": "p", "type": "quantitative", "scale": {"domain": [0, 15]}, "axis": {"values": [0,5,10,15], "title": "PDOP", "grid": true, "titleColor": "#f7b54a", "labelColor": "#f7b54a", "domain": true, "domainColor": "#f9a01b", "domainWidth": 2.5}}
   }},
  {"data": {"name": "sat"},
   "mark": {"type": "square", "size": 20, "color": "#128c12", "opacity": 1},
   "encoding": {
    "x": {"field": "t", "type": "quantitative"},
    "y": {"field": "n", "type": "quantitative", "scale": {"domain": [10, 40]}, "axis": {"orient": "right", "values": [10,20,30,40], "title": "NSAT", "grid": false, "titleColor": "#2aa52a", "labelColor": "#2aa52a", "domain": true, "domainColor": "#2aa52a", "domainWidth": 2.5, "labelPadding": 4, "titlePadding": 8}}
   }}
 ],
 "resolve": {"scale": {"y": "independent"}}
}
]
}
